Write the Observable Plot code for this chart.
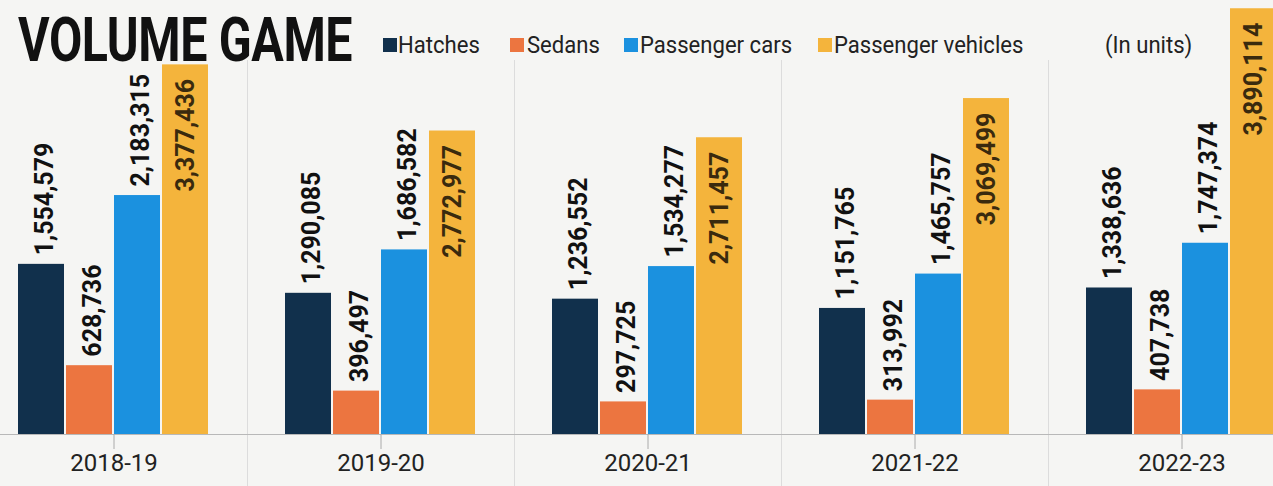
<!DOCTYPE html>
<html>
<head>
<meta charset="utf-8">
<script src="https://cdn.jsdelivr.net/npm/d3@7"></script>
<script src="https://cdn.jsdelivr.net/npm/@observablehq/plot@0.6"></script>
<style>
  html, body { margin: 0; padding: 0; background: #f5f5f3; }
  #wrap { position: relative; width: 1273px; height: 486px; overflow: hidden; font-family: Roboto, "Open Sans", sans-serif; }
  #chart { position: absolute; left: -20px; top: 0; width: 1335px; }
  #chart svg { max-width: none !important; }
  #title { position: absolute; left: 18px; top: 9px; font-size: 62px; line-height: 62px; font-weight: 700; color: #111; transform: scaleX(0.78); transform-origin: left top; white-space: nowrap; letter-spacing: -0.5px; }
  .leg { position: absolute; top: 33px; font-size: 24px; line-height: 24px; color: #222; white-space: nowrap; transform: scaleX(0.92); transform-origin: left top; }
  .sw { position: absolute; top: 38px; width: 14px; height: 14px; }
</style>
</head>
<body>
<div id="wrap">
  <div id="chart"></div>
  <div id="title">VOLUME GAME</div>
  <div id="legend"></div>
  <div class="leg" style="left:1105px">(In units)</div>
</div>
<script>
const years = ["2018-19", "2019-20", "2020-21", "2021-22", "2022-23"];
const series = ["Hatches", "Sedans", "Passenger cars", "Passenger vehicles"];
const hatches = [1554579, 1290085, 1236552, 1151765, 1338636];
const sedans = [628736, 396497, 297725, 313992, 407738];
const passengerCars = [2183315, 1686582, 1534277, 1465757, 1747374];
const passengerVehicles = [3377436, 2772977, 2711457, 3069499, 3890114];
const colors = ["#11304c", "#ec7540", "#1b91df", "#f4b43c"];

const seriesValues = [hatches, sedans, passengerCars, passengerVehicles];
const data = [];
years.forEach((year, i) => {
  series.forEach((s, j) => data.push({year, series: s, value: seriesValues[j][i]}));
});
const fmt = d3.format(",");
const outside = data.filter(d => d.series !== "Passenger vehicles");
const inside = data.filter(d => d.series === "Passenger vehicles");

const chart = Plot.plot({
  width: 1335,
  height: 486,
  marginTop: 40,
  marginBottom: 52,
  marginLeft: 0,
  marginRight: 0,
  style: {fontFamily: "Roboto, 'Open Sans', sans-serif", background: "transparent", overflow: "visible", maxWidth: "none"},
  fx: {domain: years, padding: 0, label: null},
  x: {domain: series, paddingInner: 0.04, paddingOuter: 0.8, axis: null},
  y: {domain: [0, 3600000], axis: null},
  color: {domain: series, range: colors},
  marks: [
    Plot.frame({anchor: "left", stroke: "#dcdcdc", insetTop: 20, insetBottom: -52}),
    Plot.ruleY([0], {stroke: "#b8b8b8", strokeWidth: 1}),
    Plot.barY(data, {fx: "year", x: "series", y: "value", fill: "series"}),
    Plot.text(outside, {fx: "year", x: "series", y: "value", text: d => fmt(d.value), rotate: -90, textAnchor: "start", lineAnchor: "middle", dy: -9, dx: 3, fontSize: 25, fontWeight: 700, fill: "#111"}),
    Plot.text(inside, {fx: "year", x: "series", y: "value", text: d => fmt(d.value), rotate: -90, textAnchor: "end", lineAnchor: "middle", dy: 14, dx: 0, fontSize: 25, fontWeight: 700, fill: "#3a2a0e"}),
    Plot.axisFx({anchor: "bottom", label: null, tickSize: 15, tickPadding: 4, fontSize: 24, stroke: "#aaa", fill: "#222"})
  ]
});
document.getElementById("chart").appendChild(chart);

const legendPos = [[383, 398], [510, 527], [624, 640], [818, 834]];
const legend = document.getElementById("legend");
series.forEach((s, i) => {
  const sw = document.createElement("div");
  sw.className = "sw";
  sw.style.left = legendPos[i][0] + "px";
  sw.style.background = colors[i];
  legend.appendChild(sw);
  const t = document.createElement("div");
  t.className = "leg";
  t.style.left = legendPos[i][1] + "px";
  t.textContent = s;
  legend.appendChild(t);
});
</script>
</body>
</html>
